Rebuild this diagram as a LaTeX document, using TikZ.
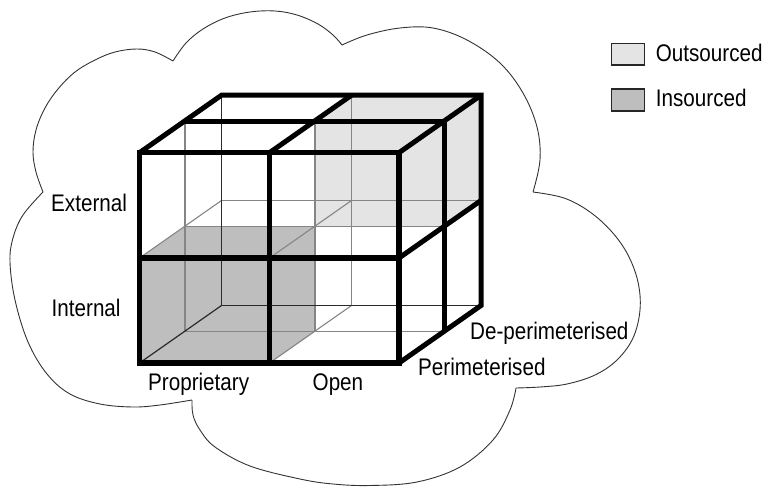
\documentclass[tikz,border=0pt]{standalone}
\usepackage{fontspec}
\setmainfont{Liberation Sans}[FakeStretch=0.86]
\definecolor{outfill}{HTML}{E4E4E4}
\definecolor{infill}{HTML}{BEBEBE}
\definecolor{thingray}{HTML}{858585}
\definecolor{thindark}{HTML}{2A2A2A}
\begin{document}
\begin{tikzpicture}[x=1pt,y=-1pt,
  cloudline/.style={draw=black!80,line width=0.9pt},
  thickedge/.style={line width=5.5pt,line join=miter},
  backedge/.style={line width=5pt,line join=miter},
  thingrid/.style={draw=thingray,line width=1.1pt},
  thinhidden/.style={draw=thindark,line width=1.2pt},
  lbl/.style={inner sep=0pt,font=\fontsize{24}{28}\selectfont},
  legbox/.style={draw=black!85,line width=1.3pt}]
\useasboundingbox (0,0) rectangle (764,487);
% cloud
\draw[cloudline] plot[smooth,tension=0.6] coordinates {(192,400) (160,405) (133,407) (100,404) (70,394) (47,374) (28,342) (15,300) (10,262) (13,238) (23,215) (43,192)};
\draw[cloudline] plot[smooth,tension=0.6] coordinates {(43,192) (36,172) (33,152) (36,130) (45,108) (58,89) (75,72) (95,60) (115,52) (137,49) (155,52) (173,61)};
\draw[cloudline] plot[smooth,tension=0.6] coordinates {(173,61) (186,43) (203,29) (225,18) (250,12) (275,11) (297,15) (318,24) (333,35) (342,45)};
\draw[cloudline] plot[smooth,tension=0.6] coordinates {(342,45) (367,35) (400,28) (433,28) (467,40) (500,63) (523,93) (537,127) (540,160) (533,192)};
\draw[cloudline] plot[smooth,tension=0.6] coordinates {(533,192) (564,198) (590,212) (612,232) (628,255) (638,282) (640,310) (633,338) (617,360) (595,375) (567,384) (540,387) (516,388)};
\draw[cloudline] plot[smooth,tension=0.6] coordinates {(516,388) (510,410) (493,440) (460,467) (417,482) (370,485.5) (333,484) (300,479) (250,466) (215,447) (200,430) (193,415) (192,400)};
% cube corner coordinates: f = front, m = middle plane, b = back
\foreach \i/\x in {0/139.5,1/269.5,2/399}{
  \foreach \j/\y in {0/152.7,1/258,2/363}{
    \coordinate (f\i\j) at (\x,\y);
    \coordinate (m\i\j) at (\x+45.5,\y-31.5);
    \coordinate (b\i\j) at (\x+82,\y-57.5);
  }
}
% shaded cells
\fill[outfill] (m10) -- (b10) -- (b20) -- (b21) -- (m21) -- (m11) -- cycle;
\fill[infill] (f01) -- (m01) -- (m11) -- (m12) -- (f12) -- (f02) -- cycle;
% thin interior lines
\draw[thingrid] (m00) -- (m02);
\draw[thingrid] (m10) -- (m12);
\draw[thingrid] (m01) -- (m21);
\draw[thingrid] (m02) -- (m22);
\draw[thingrid] (b10) -- (b12);
\draw[thingrid] (b01) -- (b21);
\draw[thingrid] (f01) -- (b01);
\draw[thingrid] (f11) -- (b11);
\draw[thingrid] (f12) -- (b12);
\draw[thinhidden] (b00) -- (b02) -- (b22);
\draw[thinhidden] (f02) -- (b02);
% thick edges
\draw[backedge] (f00) -- (b00) -- (b20) -- (b22) -- (f22);
\draw[backedge] (f10) -- (b10);
\draw[backedge] (f20) -- (b20);
\draw[backedge] (m00) -- (m20) -- (m22);
\draw[backedge] (f21) -- (b21);
\draw[thickedge] (f00) rectangle (f22);
\draw[thickedge] (f10) -- (f12);
\draw[thickedge] (f01) -- (f21);
% axis labels
\node[lbl,anchor=base west] (ext) at (51,211.8) {External};
\node[lbl,anchor=base west] (int) at (51.5,316.9) {Internal};
\node[lbl,anchor=base west] (prop) at (148,390) {Proprietary};
\node[lbl,anchor=base west] (open) at (312.5,390) {Open};
\node[lbl,anchor=base west] (per) at (418,375.7) {Perimeterised};
\node[lbl,anchor=base west] (deper) at (470,339) {De-perimeterised};
% legend
\node[legbox,fill=outfill,minimum width=32.6pt,minimum height=21.7pt,inner sep=0pt] (legout) at (628,54.2) {};
\node[legbox,fill=infill,minimum width=32.6pt,minimum height=22pt,inner sep=0pt] (legin) at (628,100) {};
\node[lbl,anchor=base west] (txtout) at (655.7,61.7) {Outsourced};
\node[lbl,anchor=base west] (txtin) at (655.7,106.7) {Insourced};
\end{tikzpicture}
\end{document}
